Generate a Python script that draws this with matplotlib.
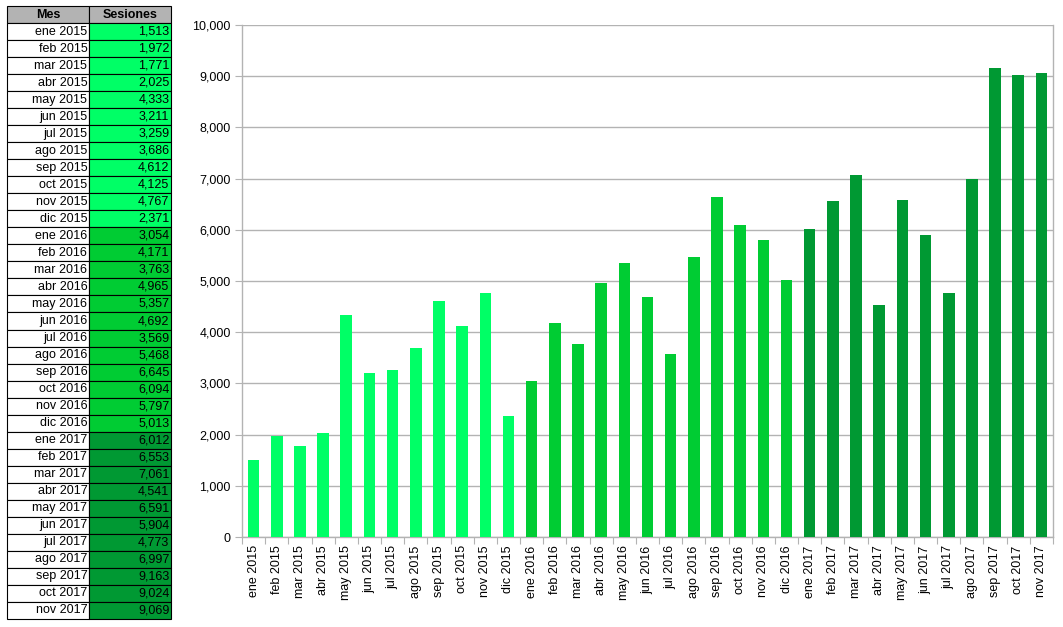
import matplotlib
matplotlib.use("Agg")
import matplotlib.pyplot as plt
from matplotlib.ticker import FuncFormatter, MultipleLocator

plt.rcParams['font.family'] = ['Liberation Sans', 'DejaVu Sans']

months = ["ene 2015", "feb 2015", "mar 2015", "abr 2015", "may 2015", "jun 2015",
          "jul 2015", "ago 2015", "sep 2015", "oct 2015", "nov 2015", "dic 2015",
          "ene 2016", "feb 2016", "mar 2016", "abr 2016", "may 2016", "jun 2016",
          "jul 2016", "ago 2016", "sep 2016", "oct 2016", "nov 2016", "dic 2016",
          "ene 2017", "feb 2017", "mar 2017", "abr 2017", "may 2017", "jun 2017",
          "jul 2017", "ago 2017", "sep 2017", "oct 2017", "nov 2017"]
sessions = [1513, 1972, 1771, 2025, 4333, 3211, 3259, 3686, 4612, 4125, 4767, 2371,
            3054, 4171, 3763, 4965, 5357, 4692, 3569, 5468, 6645, 6094, 5797, 5013,
            6012, 6553, 7061, 4541, 6591, 5904, 4773, 6997, 9163, 9024, 9069]
year_colors = {"2015": "#00ff66", "2016": "#00cc33", "2017": "#009933"}
table_header = ["Mes", "Sesiones"]

colors = [year_colors[m.split()[1]] for m in months]

W, H = 1063, 627
fig = plt.figure(figsize=(W / 100, H / 100), dpi=100)

# ---- table ----
tax = fig.add_axes([7 / W, 1 - 619 / H, 164 / W, 613 / H])
tax.axis("off")
cell_text = [[m, f"{v:,}"] for m, v in zip(months, sessions)]
cell_colors = [["white", c] for c in colors]
tbl = tax.table(cellText=cell_text, cellColours=cell_colors, colLabels=table_header,
                colColours=["#b3b3b3", "#b3b3b3"], bbox=[0, 0, 1, 1], cellLoc="right")
tbl.auto_set_font_size(False)
for (r, c), cell in tbl.get_celld().items():
    cell.set_edgecolor("black")
    cell.set_linewidth(0.8)
    cell.PAD = 0.02
    txt = cell.get_text()
    txt.set_fontsize(9)
    if r == 0:
        txt.set_ha("center")
        txt.set_fontweight("bold")
        cell._loc = "center"

# ---- bar chart ----
ax = fig.add_axes([242 / W, 1 - 537 / H, (1053 - 242) / W, (537 - 25) / H])
x = list(range(len(months)))
ax.bar(x, sessions, width=0.5, color=colors, zorder=3)
ax.set_xlim(-0.5, len(months) - 0.5)
ax.set_ylim(0, 10000)
ax.yaxis.set_major_locator(MultipleLocator(1000))
ax.yaxis.set_major_formatter(FuncFormatter(lambda v, p: f"{int(v):,}"))
ax.set_xticks([i - 0.5 for i in x] + [len(months) - 0.5], minor=False)
ax.set_xticklabels([])
ax.set_xticks(x, minor=True)
ax.set_xticklabels(months, minor=True, rotation=90, fontsize=9)
ax.tick_params(axis="x", which="minor", length=0, pad=6)
ax.tick_params(axis="x", which="major", length=5, color="#b3b3b3")
ax.tick_params(axis="y", length=5, color="#b3b3b3", labelsize=9, pad=3)
ax.grid(axis="y", color="#b3b3b3", linewidth=1, zorder=0)
for s in ["left", "bottom", "right"]:
    ax.spines[s].set_color("#b3b3b3")
    ax.spines[s].set_linewidth(1)
ax.spines["top"].set_visible(False)

fig.savefig("out.png", dpi=100)
